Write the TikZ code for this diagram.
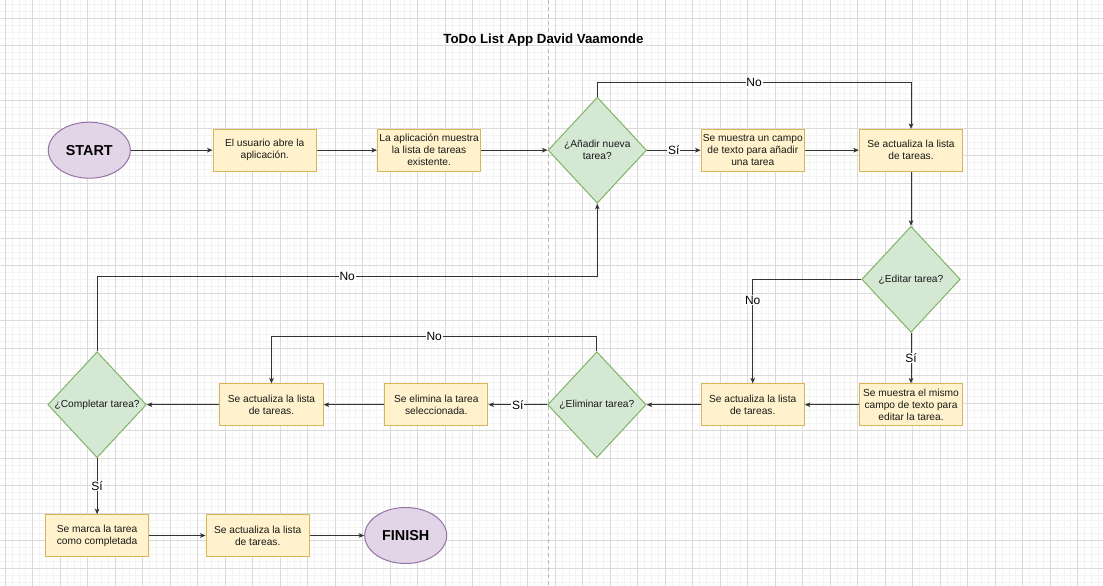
\documentclass[tikz,border=0pt]{standalone}
\usepackage{fontspec}
\setmainfont{Liberation Sans}
\usetikzlibrary{shapes.geometric,arrows.meta}
\definecolor{gridmajor}{HTML}{DADADA}
\definecolor{gridminor}{HTML}{F3F3F3}
\definecolor{pagebreak}{HTML}{B8B8B8}
\definecolor{boxfill}{HTML}{FFF2CC}
\definecolor{boxline}{HTML}{D6B656}
\definecolor{decfill}{HTML}{D5E8D4}
\definecolor{decline}{HTML}{82B366}
\definecolor{termfill}{HTML}{E1D5E7}
\definecolor{termline}{HTML}{9673A6}
\definecolor{edgecol}{HTML}{333333}
\begin{document}
\begin{tikzpicture}[x=1pt,y=-1pt,
  stepbox/.style={draw=boxline, fill=boxfill, line width=1pt, minimum width=103.3pt, minimum height=41.6pt, inner sep=0pt, align=center, font=\fontsize{10.2}{12}\selectfont, text=black!90},
  decision/.style={diamond, draw=decline, fill=decfill, line width=1pt, minimum width=98.5pt, minimum height=106pt, inner sep=0pt, align=center, font=\fontsize{10.2}{12}\selectfont, text=black!90},
  terminal/.style={ellipse, draw=termline, fill=termfill, line width=1pt, minimum width=82pt, minimum height=56pt, inner sep=0pt, font=\bfseries\fontsize{14.4}{16}\selectfont},
  arr/.style={draw=edgecol, line width=0.9pt, -{Stealth[length=5.5pt,width=4.6pt,inset=1.4pt]}},
  lbl/.style={fill=white, inner sep=0.8pt, font=\fontsize{12}{14}\selectfont, text=black},
  minorline/.style={draw=gridminor, line width=1pt},
  majorline/.style={draw=gridmajor, line width=1pt}
]
\useasboundingbox (0,0) rectangle (1103,586);
\fill[white] (0,0) rectangle (1103,586);
% grid
\foreach \i in {0,...,161} \draw[minorline] ({-1.575+6.875*\i},0) -- ({-1.575+6.875*\i},586);
\foreach \i in {0,...,86} \draw[minorline] (0,{-2.325+6.875*\i}) -- (1103,{-2.325+6.875*\i});
\foreach \i in {0,...,40} \draw[majorline] ({5.3+27.5*\i},0) -- ({5.3+27.5*\i},586);
\foreach \i in {0,...,21} \draw[majorline] (0,{18.3+27.5*\i}) -- (1103,{18.3+27.5*\i});
% page break
\draw[pagebreak, line width=1pt, dash pattern=on 4pt off 3pt] (548.3,0) -- (548.3,586);

% title
\node[font=\bfseries\fontsize{13.3}{15}\selectfont, anchor=base] (title) at (543.4,43.7) {ToDo List App David Vaamonde};

% nodes
\node[terminal] (start) at (89.3,150.2) {START};
\node[stepbox] (b1) at (264.7,150.2) {El usuario abre la\\aplicación.};
\node[stepbox] (b2) at (429.1,150.2) {La aplicación muestra\\la lista de tareas\\existente.};
\node[decision] (d1) at (597.3,150.2) {¿Añadir nueva\\tarea?};
\node[stepbox] (b3) at (752.8,150.2) {Se muestra un campo\\de texto para añadir\\una tarea};
\node[stepbox] (b4) at (911,150.2) {Se actualiza la lista\\de tareas.};
\node[decision] (d2) at (911,279.3) {¿Editar tarea?};
\node[stepbox] (b5) at (911,404.7) {Se muestra el mismo\\campo de texto para\\editar la tarea.};
\node[stepbox] (b6) at (752.7,404.7) {Se actualiza la lista\\de tareas.};
\node[decision] (d3) at (596.9,404.7) {¿Eliminar tarea?};
\node[stepbox] (b7) at (436.3,404.7) {Se elimina la tarea\\seleccionada.};
\node[stepbox] (b8) at (271.5,404.7) {Se actualiza la lista\\de tareas.};
\node[decision] (d4) at (97.1,404.7) {¿Completar tarea?};
\node[stepbox] (b9) at (97.1,535.5) {Se marca la tarea\\como completada};
\node[stepbox] (b10) at (257.7,535.5) {Se actualiza la lista\\de tareas.};
\node[terminal] (finish) at (405.7,535.5) {FINISH};

% connectors
\draw[arr] (start) -- (b1);
\draw[arr] (b1) -- (b2);
\draw[arr] (b2) -- (d1);
\draw[arr] (d1) -- node[lbl]{Sí} (b3);
\draw[arr] (b3) -- (b4);
\draw[arr] (d1.north) -- ++(0,-14) -| node[lbl,pos=0.25]{No} (b4.north);
\draw[arr] (b4) -- (d2);
\draw[arr] (d2) -- node[lbl]{Sí} (b5);
\draw[arr] (d2.west) -| node[lbl,pos=0.6]{No} (b6.north);
\draw[arr] (b5) -- (b6);
\draw[arr] (b6) -- (d3);
\draw[arr] (d3) -- node[lbl]{Sí} (b7);
\draw[arr] (d3.north) -- ++(0,-15) -| node[lbl,pos=0.25]{No} (b8.north);
\draw[arr] (b7) -- (b8);
\draw[arr] (b8) -- (d4);
\draw[arr] (d4.north) -- ++(0,-74.4) -| node[lbl,pos=0.25]{No} (d1.south);
\draw[arr] (d4) -- node[lbl]{Sí} (b9);
\draw[arr] (b9) -- (b10);
\draw[arr] (b10) -- (finish);
\end{tikzpicture}
\end{document}
